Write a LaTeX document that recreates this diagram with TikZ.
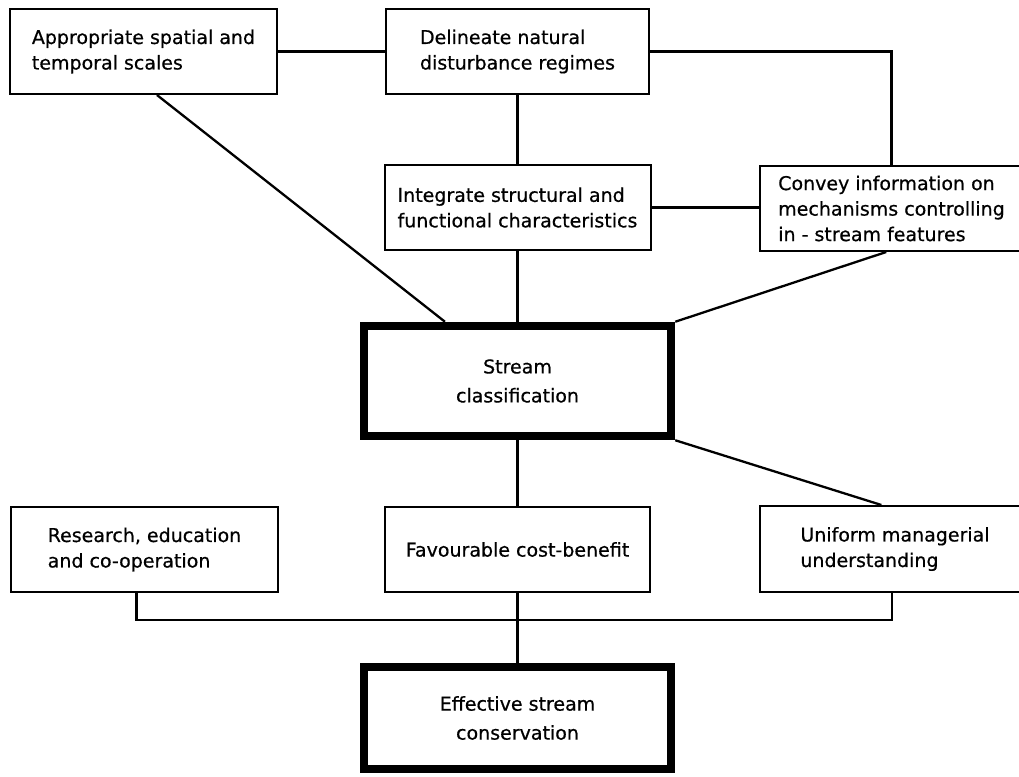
\documentclass[tikz,border=0pt]{standalone}
\usepackage{fontspec}
\setmainfont{DejaVu Sans}[FakeBold=0.6]
\usetikzlibrary{calc}
\begin{document}
\begin{tikzpicture}[x=1pt,y=-1pt,
  every node/.style={font=\fontsize{19}{25.5}\selectfont},
  box/.style={draw, line width=2pt, rectangle, align=left, inner sep=0pt},
  keybox/.style={draw, line width=8.5pt, rectangle, align=center, inner sep=0pt,
                 font=\fontsize{19}{29}\selectfont},
  link/.style={line width=2.3pt}]
\useasboundingbox (0,0) rectangle (1019,776);
\clip (0,0) rectangle (1019,776);

% upper row
\node[box, minimum width=267pt, minimum height=85pt] (A) at (143.5,51.5)
  {Appropriate spatial and\\temporal scales};
\node[box, minimum width=263pt, minimum height=85pt] (B) at (517.5,51.5)
  {Delineate natural\\disturbance regimes};

% middle row
\node[box, minimum width=266pt, minimum height=85pt] (I) at (517.5,207.5)
  {Integrate structural and\\functional characteristics};
\node[box, minimum width=263pt, minimum height=85pt] (C) at (891.5,208.5)
  {Convey information on\\mechanisms controlling\\in - stream features};

% central classification box
\node[keybox, minimum width=307pt, minimum height=110pt] (S) at (517.5,381)
  {Stream\\classification};

% lower row
\node[box, minimum width=267pt, minimum height=85pt] (R) at (144.5,549.5)
  {Research, education\\and co-operation};
\node[box, minimum width=265pt, minimum height=85pt] (F) at (517.5,549.5)
  {Favourable cost-benefit};
\node[box, minimum width=270pt, minimum height=86pt] (U) at (895,549)
  {Uniform managerial\\understanding};

% goal box
\node[keybox, minimum width=307pt, minimum height=102pt] (E) at (517.5,718)
  {Effective stream\\conservation};

% connectors above the classification box
\draw[link] (A.east) -- (A.east -| B.west);
\draw[link] (B.east) -| (C.north);
\draw[link] (B.south) -- (B.south |- I.north);
\draw[link] (I.east) -- (I.east -| C.west);
\draw[link] (I.south) -- (I.south |- S.north);
\draw[link] ($(A.south west)!0.55!(A.south east)$) -- ($(S.north west)!0.27!(S.north east)$);
\draw[link] ($(C.south west)!0.48!(C.south east)$) -- (S.north east);

% connectors below the classification box
\draw[link] (S.south east) -- ($(U.north west)!0.45!(U.north east)$);
\draw[link] (S.south) -- (S.south |- F.north);
\draw[link] (F.south) -- (F.south |- E.north);
\coordinate (bus) at (517.5,620);
\coordinate (Rd) at ($(R.south west)!0.47!(R.south east)$);
\coordinate (Ud) at ($(U.south west)!0.49!(U.south east)$);
\draw[link] (Rd) |- (bus) -| (Ud);
\end{tikzpicture}
\end{document}
